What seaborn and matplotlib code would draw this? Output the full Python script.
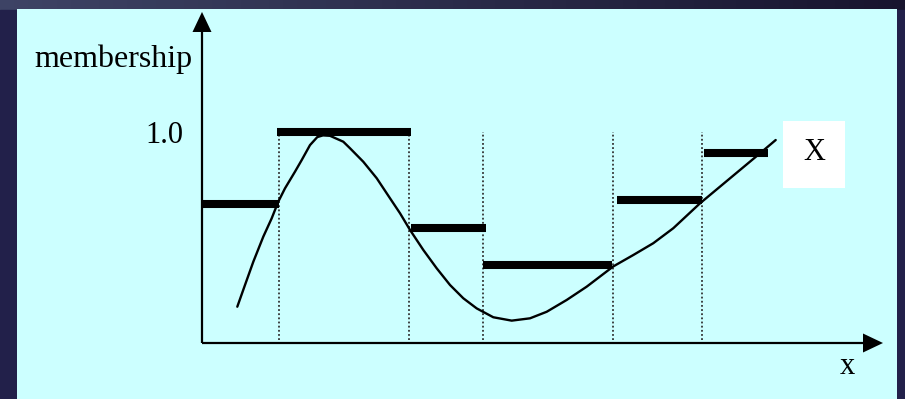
import numpy as np
import pandas as pd
import matplotlib
matplotlib.use("Agg")
import matplotlib.pyplot as plt
from matplotlib.patches import Rectangle, Polygon
import seaborn as sns

# ---- data (x in axis units, y = membership) ----
curve_x = [0.353, 0.430, 0.513, 0.613, 0.697, 0.763, 0.830, 0.930, 0.997, 1.080,
           1.153, 1.210, 1.280, 1.413, 1.480, 1.613, 1.747, 1.880, 1.980, 2.080,
           2.213, 2.347, 2.480, 2.613, 2.747, 2.913, 3.097, 3.280, 3.447, 3.647,
           3.847, 4.113, 4.313, 4.513, 4.713, 4.980, 5.180, 5.380, 5.580, 5.737]
curve_y = [0.172, 0.275, 0.385, 0.504, 0.591, 0.670, 0.733, 0.812, 0.867, 0.938,
           0.976, 0.984, 0.982, 0.954, 0.923, 0.859, 0.781, 0.686, 0.615, 0.536,
           0.441, 0.354, 0.275, 0.212, 0.164, 0.122, 0.106, 0.117, 0.148, 0.204,
           0.267, 0.363, 0.417, 0.473, 0.544, 0.662, 0.741, 0.820, 0.899, 0.962]

bar_start = [0.00, 0.75, 2.09, 2.81, 4.15, 5.02]
bar_end = [0.77, 2.09, 2.84, 4.10, 5.00, 5.66]
bar_level = [0.659, 1.000, 0.545, 0.370, 0.678, 0.900]

cut_x = [0.77, 2.07, 2.81, 4.11, 5.00]
cut_top = [1.0, 1.0, 1.0, 1.0, 1.0]

ytick_label = "1.0"
ylabel = "membership"
xlabel = "x"
curve_label = "X"

# ---- figure ----
sns.set_theme(style="white")
plt.rcParams["font.family"] = ["Liberation Serif", "DejaVu Serif"]

W, H = 905, 399
fig = plt.figure(figsize=(W / 100, H / 100), dpi=100)

# dark textured background
bg = fig.add_axes([0, 0, 1, 1])
bg.set_axis_off()
grad = np.zeros((2, 64, 3))
left = np.array([72, 82, 110]) / 255
mid = np.array([55, 58, 95]) / 255
right = np.array([40, 34, 78]) / 255
for i in range(64):
    t = i / 63
    c = left * (1 - t) * 0.4 + (mid * (1 - t) + right * t) * 0.6
    grad[0, i] = c
    grad[1, i] = c
bg.imshow(grad, aspect="auto", extent=[0, 1, 0, 1], transform=bg.transAxes)
bg.add_patch(Rectangle((0, 0), 1, 0.975, color="#22204a", transform=bg.transAxes, zorder=2))

ax = fig.add_axes([0, 0, 1, 1])
ax.set_facecolor("none")

# cyan panel
ax.add_patch(Rectangle((17 / W, 0), (897 - 17) / W, (H - 9) / H,
                       transform=ax.transAxes, facecolor="#ccffff", edgecolor="none", zorder=0))

# axes with arrows
ax.plot([0, 0], [0, 1.49], color="black", lw=1.6, zorder=3, solid_capstyle="butt")
ax.plot([0, 6.63], [0, 0], color="black", lw=1.6, zorder=3, solid_capstyle="butt")
ax.add_patch(Polygon([[-0.095, 1.474], [0.095, 1.474], [0.0, 1.569]], closed=True,
                     facecolor="black", edgecolor="none", zorder=3))
ax.add_patch(Polygon([[6.61, -0.045], [6.61, 0.045], [6.81, 0.0]], closed=True,
                     facecolor="black", edgecolor="none", zorder=3))

# dotted cut lines
ax.vlines(cut_x, 0.015, cut_top, colors="#333333", linewidth=1.3,
          linestyles=(0, (1, 1.3)), zorder=1)

# thick horizontal bars
ax.hlines(bar_level, bar_start, bar_end, colors="black", linewidth=5.8, zorder=4)

# curve
df = pd.DataFrame({"x": curve_x, "y": curve_y})
sns.lineplot(data=df, x="x", y="y", sort=False, color="black", linewidth=1.7, ax=ax, zorder=5)
ax.set_axis_off()
ax.set_xlim((0 - 202) / 100, (W - 202) / 100)
ax.set_ylim((343 - H) / 211, 343 / 211)

# labels
ax.text(-0.885, 1.308, ylabel, fontsize=23, ha="center", va="baseline", color="black")
ax.text(-0.19, 0.948, ytick_label, fontsize=22, ha="right", va="baseline", color="black")
ax.text(6.45, -0.147, xlabel, fontsize=22, ha="center", va="baseline", color="black")

ax.add_patch(Rectangle((5.81, 0.735), 0.62, 0.317, facecolor="white", edgecolor="none", zorder=2))
ax.text(6.12, 0.867, curve_label, fontsize=22, ha="center", va="baseline", color="black", zorder=6)

fig.savefig("out.png", dpi=100)
